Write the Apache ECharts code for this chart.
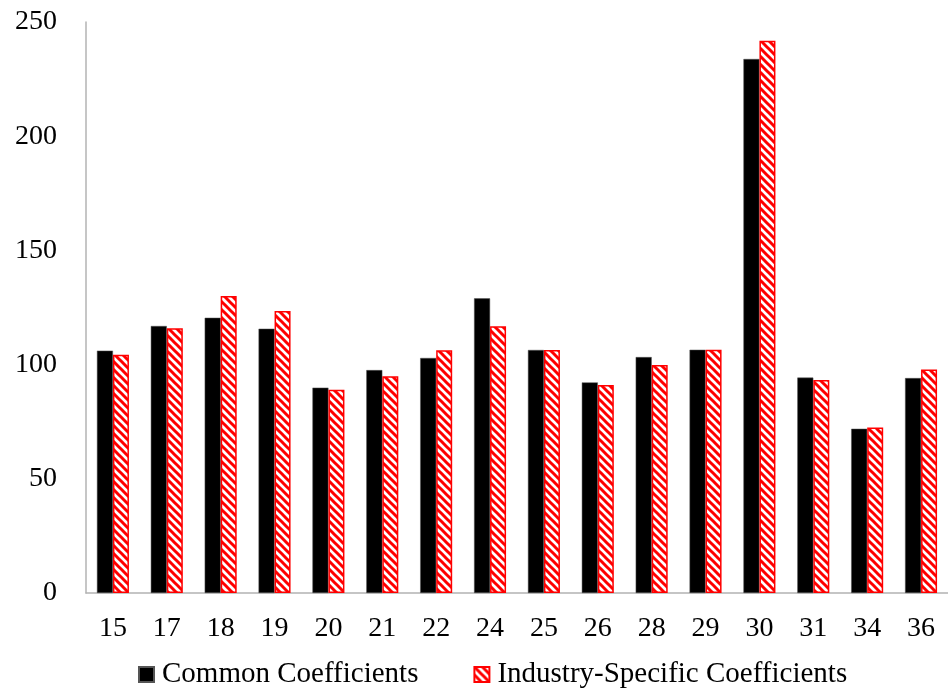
<!DOCTYPE html>
<html>
<head>
<meta charset="utf-8">
<script src="https://cdn.jsdelivr.net/npm/echarts@6/dist/echarts.min.js"></script>
<style>
  html, body { margin: 0; padding: 0; background: #ffffff; }
  #chart { width: 948px; height: 694px; }
</style>
</head>
<body>
<div id="chart"></div>
<script>
// Industry codes on the category axis
var categories = ['15', '17', '18', '19', '20', '21', '22', '24', '25', '26', '28', '29', '30', '31', '34', '36'];

// Values estimated with common coefficients across industries
var commonValues = [106.1, 116.9, 120.5, 115.7, 89.9, 97.6, 102.9, 129.0, 106.4, 92.2, 103.3, 106.5, 233.8, 94.3, 71.9, 94.1];

// Values estimated with industry-specific coefficients
var industryValues = [104.3, 115.9, 130.0, 123.5, 89.0, 94.9, 106.3, 116.8, 106.4, 91.1, 99.8, 106.5, 241.8, 93.3, 72.5, 97.9];

// Value axis ticks
var yTicks = [0, 50, 100, 150, 200, 250];

// Red diagonal hatch tile for the second series
function makeHatch() {
  var size = 8;
  var c = document.createElement('canvas');
  c.width = size;
  c.height = size;
  var ctx = c.getContext('2d');
  ctx.fillStyle = '#ffffff';
  ctx.fillRect(0, 0, size, size);
  ctx.strokeStyle = '#ff0000';
  ctx.lineWidth = 3;
  ctx.lineCap = 'square';
  [-size, 0, size].forEach(function (o) {
    ctx.beginPath();
    ctx.moveTo(o, 0);
    ctx.lineTo(o + size, size);
    ctx.stroke();
  });
  return c;
}

var chart = echarts.init(document.getElementById('chart'), null, { renderer: 'canvas' });
var fontFamily = '"Liberation Serif", "DejaVu Serif", serif';

chart.setOption({
  animation: false,
  backgroundColor: '#ffffff',
  grid: { left: 86, top: 22, width: 869, height: 571, containLabel: false },
  legend: {
    left: 138,
    top: 660,
    padding: 0,
    icon: 'rect',
    itemWidth: 15,
    itemHeight: 15,
    itemGap: 55,
    textStyle: { fontFamily: fontFamily, fontSize: 29, color: '#000000', padding: [0, 0, 0, 3] },
    data: ['Common Coefficients', 'Industry-Specific Coefficients']
  },
  xAxis: {
    type: 'category',
    data: categories,
    axisLine: { show: true, lineStyle: { color: '#b3b3b3', width: 1.5 } },
    axisTick: { show: false },
    axisLabel: { fontFamily: fontFamily, fontSize: 28, color: '#000000', margin: 22 }
  },
  yAxis: {
    type: 'value',
    min: yTicks[0],
    max: yTicks[yTicks.length - 1],
    interval: 50,
    axisLine: { show: true, lineStyle: { color: '#b3b3b3', width: 1.5 } },
    axisTick: { show: false },
    splitLine: { show: false },
    axisLabel: { fontFamily: fontFamily, fontSize: 28, color: '#000000', margin: 29 }
  },
  series: [
    {
      name: 'Common Coefficients',
      type: 'bar',
      data: commonValues,
      barWidth: 16,
      barGap: '0%',
      itemStyle: { color: '#000000', borderColor: '#555555', borderWidth: 0.5 }
    },
    {
      name: 'Industry-Specific Coefficients',
      type: 'bar',
      data: industryValues,
      barWidth: 16,
      barGap: '0%',
      itemStyle: {
        color: { image: makeHatch(), repeat: 'repeat' },
        borderColor: '#ff0000',
        borderWidth: 1.5
      }
    }
  ]
});
</script>
</body>
</html>
